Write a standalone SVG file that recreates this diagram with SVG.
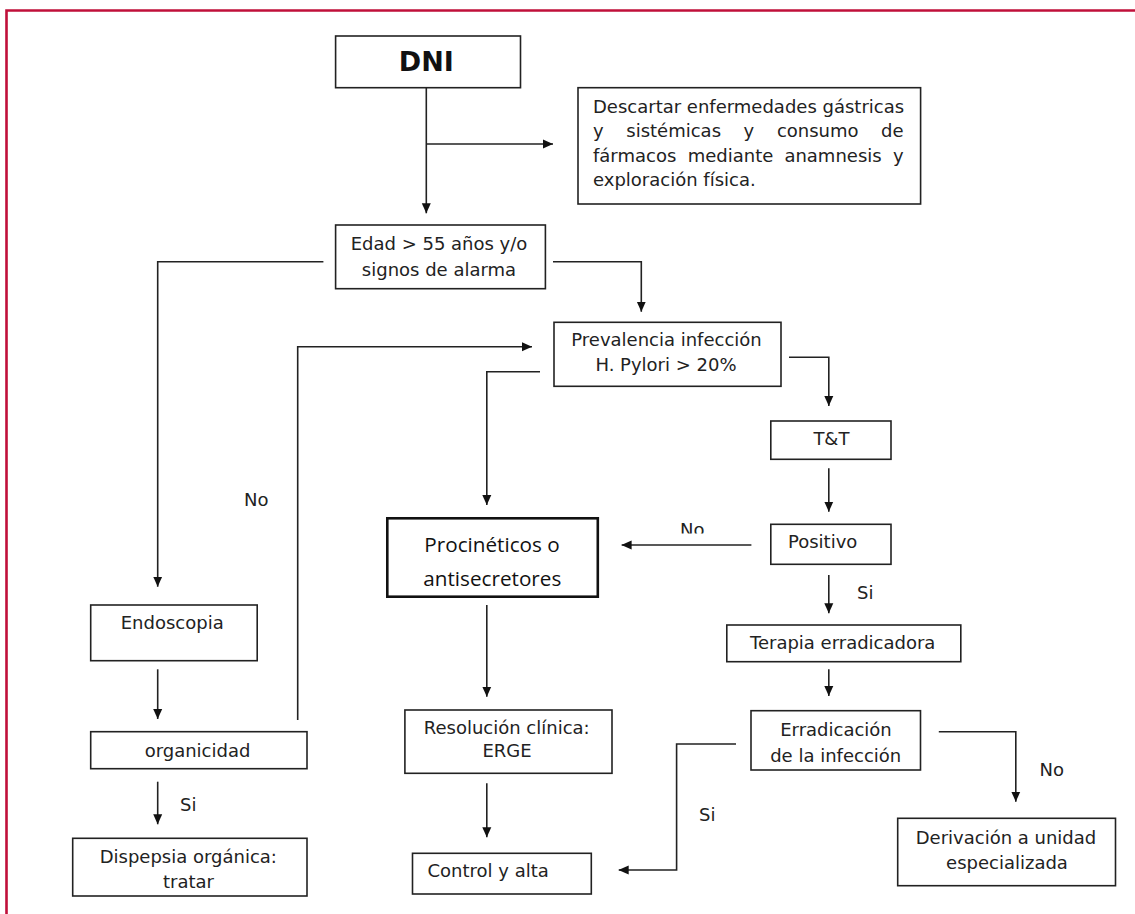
<svg xmlns="http://www.w3.org/2000/svg" width="1135" height="914" viewBox="0 0 1135 914">
<style>
.box{fill:#fff;stroke:#222;stroke-width:1.6}
.box2{fill:#fff;stroke:#111;stroke-width:2.6}
.t{font-family:"DejaVu Sans",Verdana,sans-serif;font-size:18px;fill:#222}
.m{text-anchor:middle}
.big{font-family:"Open Sans","DejaVu Sans",sans-serif;font-size:20.7px;fill:#111;text-anchor:middle}
.c{fill:none;stroke:#222;stroke-width:1.6}
</style>
<defs>
<marker id="ah" markerUnits="userSpaceOnUse" markerWidth="10" markerHeight="10" refX="10" refY="5" orient="auto">
<path d="M0,0.5 L10,5 L0,9.5 z" fill="#111"/>
</marker>
<clipPath id="cutNo"><rect x="600" y="500" width="200" height="33.5"/></clipPath>
</defs>
<rect width="1135" height="914" fill="#fff"/>
<path d="M6.5,914 V10.5 H1135" fill="none" stroke="#c0103a" stroke-width="2.6"/>

<g id="connectors">
<path class="c" d="M426.3,88 V213.3" marker-end="url(#ah)"/>
<path class="c" d="M426.3,144 H553" marker-end="url(#ah)"/>
<path class="c" d="M323.4,261.7 H157.7 V586.7" marker-end="url(#ah)"/>
<path class="c" d="M553,261.7 H641.3 V311.7" marker-end="url(#ah)"/>
<path class="c" d="M297.7,720 V346.7 H532" marker-end="url(#ah)"/>
<path class="c" d="M540,371.7 H486.8 V505" marker-end="url(#ah)"/>
<path class="c" d="M789,357.3 H828.8 V406" marker-end="url(#ah)"/>
<path class="c" d="M828.8,468.3 V511.7" marker-end="url(#ah)"/>
<path class="c" d="M751.4,545 H621.6" marker-end="url(#ah)"/>
<path class="c" d="M828.8,575 V613.3" marker-end="url(#ah)"/>
<path class="c" d="M828.8,669.3 V696" marker-end="url(#ah)"/>
<path class="c" d="M736,744 H676.6 V870 H618.7" marker-end="url(#ah)"/>
<path class="c" d="M938.8,731.7 H1015.8 V801.7" marker-end="url(#ah)"/>
<path class="c" d="M157.7,669.3 V719" marker-end="url(#ah)"/>
<path class="c" d="M157.7,781.7 V824.3" marker-end="url(#ah)"/>
<path class="c" d="M486.8,605 V696.7" marker-end="url(#ah)"/>
<path class="c" d="M486.8,783.3 V837.3" marker-end="url(#ah)"/>
<text class="t" x="244" y="506">No</text>
<text class="t" x="680" y="536.4" clip-path="url(#cutNo)">No</text>
<text class="t" x="857" y="599">Si</text>
<text class="t" x="180" y="810.7">Si</text>
<text class="t" x="699" y="821">Si</text>
<text class="t" x="1039.6" y="775.7">No</text>
</g>

<g id="dni">
<rect class="box" x="335.6" y="36" width="184.9" height="51.7"/>
<text x="426.3" y="71" text-anchor="middle" font-family="'DejaVu Sans',Verdana,sans-serif" font-weight="bold" font-size="27" fill="#111">DNI</text>
</g>

<g id="descartar">
<rect class="box" x="578" y="87.7" width="342.6" height="116.3"/>
<text class="t" x="593" y="112.5">Descartar enfermedades gástricas</text>
<text class="t" y="137"><tspan x="593">y</tspan><tspan x="626.3">sistémicas</tspan><tspan x="743.6">y</tspan><tspan x="776.9">consumo</tspan></text>
<text class="t" x="903.6" y="137" text-anchor="end">de</text>
<text class="t" y="161.5"><tspan x="593">fármacos</tspan><tspan x="687.7">mediante</tspan><tspan x="784.4">anamnesis</tspan></text>
<text class="t" x="903.6" y="161.5" text-anchor="end">y</text>
<text class="t" x="593" y="186">exploración física.</text>
</g>

<g id="edad">
<rect class="box" x="335.6" y="225" width="209.8" height="63.7"/>
<text class="t m" x="439" y="250">Edad &gt; 55 años y/o</text>
<text class="t m" x="439" y="276">signos de alarma</text>
</g>

<g id="prevalencia">
<rect class="box" x="554" y="322.3" width="227" height="64"/>
<text class="t m" x="666.5" y="345.5">Prevalencia infección</text>
<text class="t m" x="666" y="371">H. Pylori &gt; 20%</text>
</g>

<g id="tt">
<rect class="box" x="770.8" y="421" width="120.2" height="38.3"/>
<text class="t m" x="831.4" y="445">T&amp;T</text>
</g>

<g id="positivo">
<rect class="box" x="770.8" y="524.3" width="120.2" height="40"/>
<text class="t" x="788" y="548.3">Positivo</text>
</g>

<g id="procineticos">
<rect class="box2" x="387.3" y="518.3" width="210.5" height="78.4"/>
<text class="big" x="492" y="552.3">Procinéticos o</text>
<text class="big" x="492.3" y="585.7">antisecretores</text>
</g>

<g id="endoscopia">
<rect class="box" x="90.7" y="605" width="166.5" height="55.7"/>
<text class="t m" x="172.2" y="629.3">Endoscopia</text>
</g>

<g id="organicidad">
<rect class="box" x="90.7" y="731.7" width="216.3" height="37"/>
<text class="t m" x="197.5" y="757">organicidad</text>
</g>

<g id="dispepsia">
<rect class="box" x="72.7" y="838.3" width="234.3" height="57.7"/>
<text class="t m" x="188.3" y="862.7">Dispepsia orgánica:</text>
<text class="t m" x="188.5" y="888.3">tratar</text>
</g>

<g id="resolucion">
<rect class="box" x="404.9" y="710" width="207.1" height="63.3"/>
<text class="t m" x="506.7" y="734">Resolución clínica:</text>
<text class="t m" x="507" y="757.3">ERGE</text>
</g>

<g id="control">
<rect class="box" x="412.5" y="853.3" width="178.8" height="40.7"/>
<text class="t" x="427.5" y="877.3">Control y alta</text>
</g>

<g id="terapia">
<rect class="box" x="726.8" y="625" width="234" height="36.7"/>
<text class="t m" x="842.7" y="649.3">Terapia erradicadora</text>
</g>

<g id="erradicacion">
<rect class="box" x="751" y="710.7" width="169.5" height="59.3"/>
<text class="t m" x="836" y="736">Erradicación</text>
<text class="t m" x="835.7" y="761.7">de la infección</text>
</g>

<g id="derivacion">
<rect class="box" x="897.7" y="818.3" width="217.8" height="67.4"/>
<text class="t m" x="1006" y="844">Derivación a unidad</text>
<text class="t m" x="1007" y="869.3">especializada</text>
</g>
</svg>
